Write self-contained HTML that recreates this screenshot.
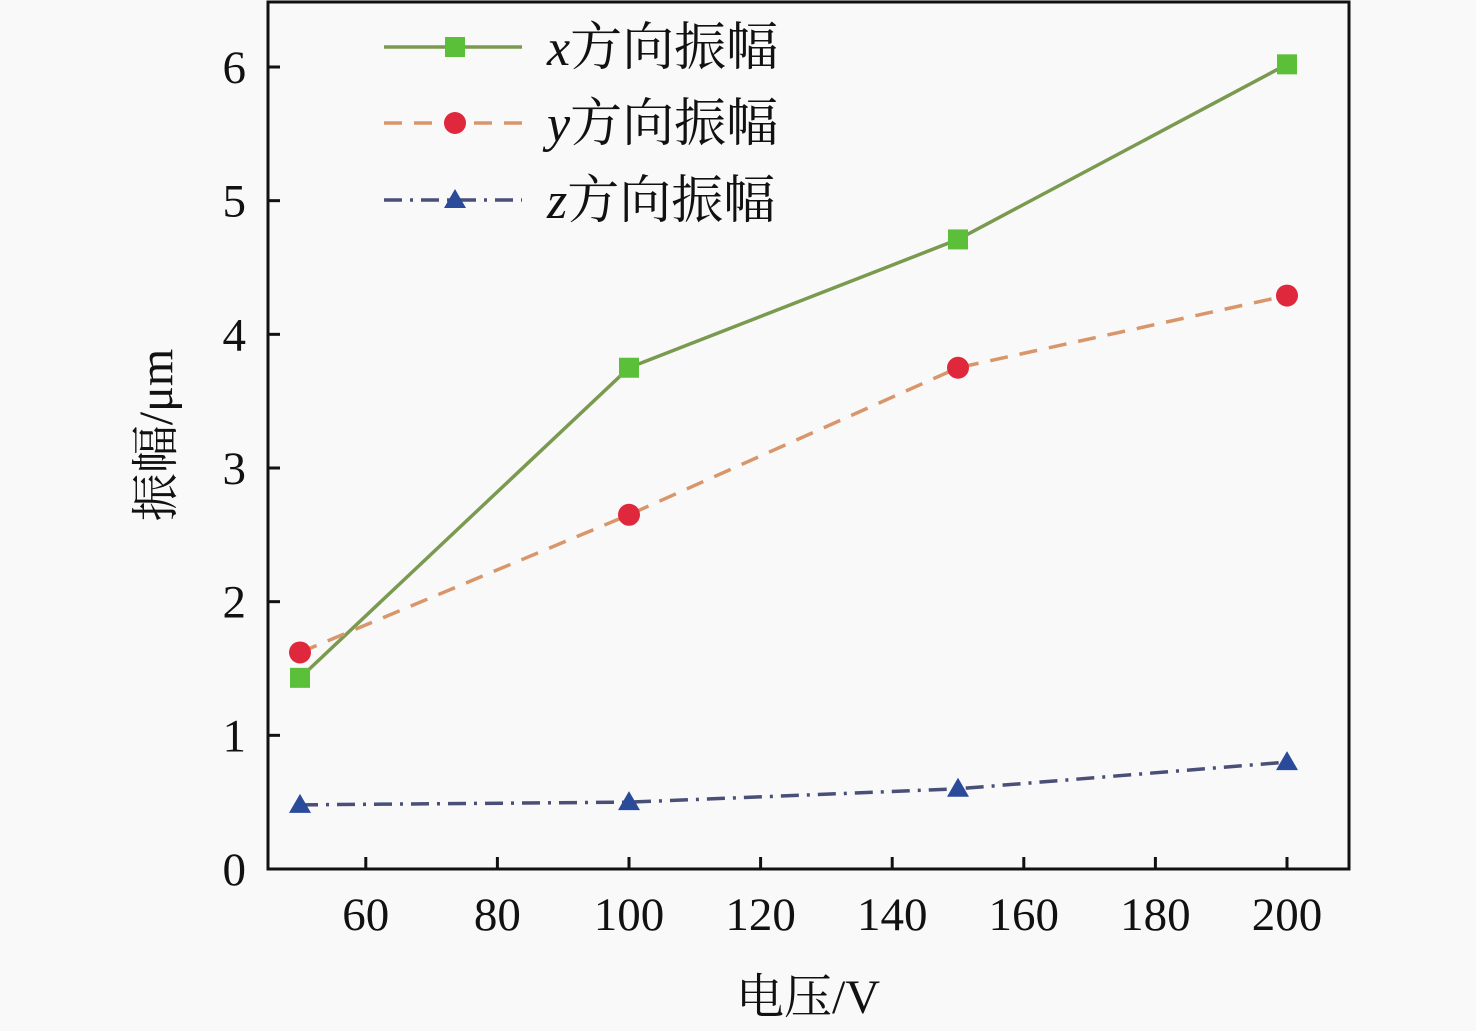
<!DOCTYPE html>
<html><head><meta charset="utf-8"><style>
body{margin:0;background:#f9f9f9}
svg{display:block}
text{font-family:"Liberation Serif","Noto Serif CJK SC",serif;fill:#111}
</style></head><body>
<svg id="c" width="1476" height="1031" xmlns="http://www.w3.org/2000/svg">
<rect width="1476" height="1031" fill="#f9f9f9"/>
<g id="plot"></g>
</svg>
<script>
const voltages=[50,100,150,200];
const xAmp=[1.43,3.75,4.71,6.02];
const yAmp=[1.62,2.65,3.75,4.29];
const zAmp=[0.48,0.50,0.60,0.80];
const xTicks=[60,80,100,120,140,160,180,200];
const yTicks=[0,1,2,3,4,5,6];
const L=268,R=1349,T=2,B=869;
const sx=v=>300+(v-50)*(1287-300)/150;
const sy=v=>869-v*(869-67)/6;
const NS='http://www.w3.org/2000/svg';
const g=document.getElementById('plot');
function mk(tag,attrs,parent){const e=document.createElementNS(NS,tag);for(const k in attrs)e.setAttribute(k,attrs[k]);(parent||g).appendChild(e);return e;}
const frame=mk('rect',{x:L,y:T,width:R-L,height:B-T,fill:'none',stroke:'#111','stroke-width':3});


xTicks.forEach(t=>{
 const tk=mk('line',{x1:sx(t),x2:sx(t),y1:B,y2:B-12,stroke:'#111','stroke-width':3});
 
 
 const lb=mk('text',{x:sx(t),y:930,'font-size':47,'text-anchor':'middle'});lb.textContent=t;
 
 
});
yTicks.forEach(t=>{
 const tk=mk('line',{x1:L,x2:L+12,y1:sy(t),y2:sy(t),stroke:'#111','stroke-width':3});
 
 
 const lb=mk('text',{x:246,y:sy(t)+16,'font-size':47,'text-anchor':'end'});lb.textContent=t;
 
 
});
const xt=mk('text',{x:808,y:1013,'font-size':48,'text-anchor':'middle'});xt.textContent='电压/V';


const yt=mk('text',{x:0,y:0,'font-size':48,'text-anchor':'middle',transform:'translate(172,435) rotate(-90)'});yt.textContent='振幅/μm';


const series=[
 {d:xAmp,c:'#7a9a50',m:'#5cbf3a',dash:'',mk:'sq',name:'x'},
 {d:yAmp,c:'#d9966a',m:'#e0283c',dash:'18 12',mk:'ci',name:'y'},
 {d:zAmp,c:'#4a4f78',m:'#2a4b9a',dash:'18 8 3 8',mk:'tr',name:'z'}];
function marker(s,x,y){
 let e;
 if(s.mk==='sq')e=mk('rect',{x:x-10,y:y-10,width:20,height:20,fill:s.m});
 else if(s.mk==='ci')e=mk('circle',{cx:x,cy:y,r:11,fill:s.m});
 else e=mk('polygon',{points:`${x},${y-11} ${x+11},${y+8} ${x-11},${y+8}`,fill:s.m});
 return e;
}
series.forEach(s=>{
 const pl=mk('polyline',{points:voltages.map((v,i)=>sx(v)+','+sy(s.d[i])).join(' '),fill:'none',stroke:s.c,'stroke-width':3.5,'stroke-dasharray':s.dash});
 
 
 voltages.forEach((v,i)=>{const e=marker(s,sx(v),sy(s.d[i]));
  
  });
});
const legY=[47,123,200];
series.forEach((s,i)=>{
 const y=legY[i];
 const ln=mk('line',{x1:384,x2:522,y1:y,y2:y,stroke:s.c,'stroke-width':3.5,'stroke-dasharray':s.dash});
 
 
 const m=marker(s,455,y);
 
 
 const t=mk('text',{x:547,y:y+18,'font-size':52});
 t.innerHTML='<tspan font-style="italic">'+s.name+'</tspan>方向振幅';
 
 
});
</script>
</body></html>
